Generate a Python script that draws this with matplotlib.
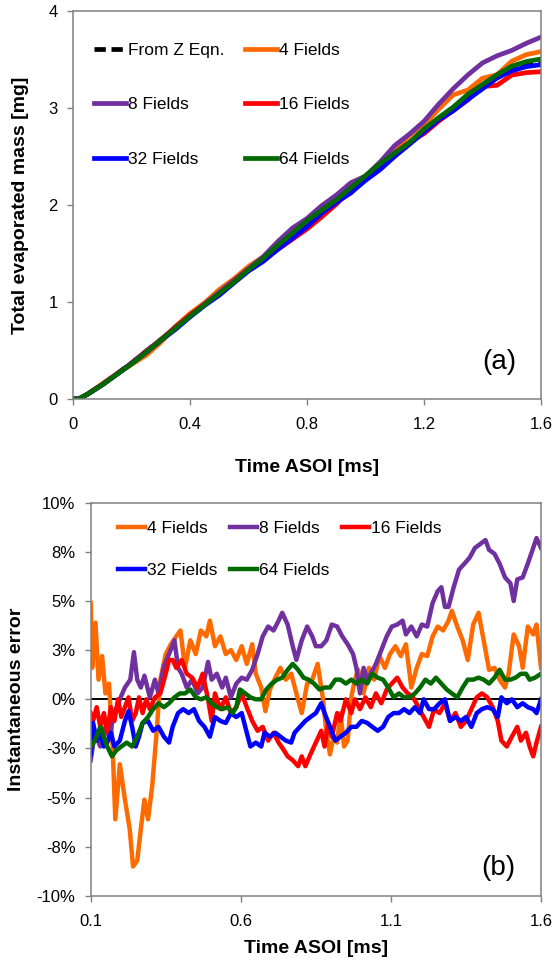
import matplotlib
matplotlib.use("Agg")
import matplotlib.pyplot as plt

plt.rcParams["font.family"] = ["Liberation Sans", "DejaVu Sans"]

# ---- (a) total evaporated mass [mg] vs time ASOI [ms] ----
t_top = [0.00, 0.02, 0.05, 0.10, 0.15, 0.20, 0.25, 0.30, 0.35, 0.40, 0.45,
         0.50, 0.55, 0.60, 0.65, 0.70, 0.75, 0.80, 0.85, 0.90, 0.95, 1.00,
         1.05, 1.10, 1.15, 1.20, 1.25, 1.30, 1.35, 1.40, 1.45, 1.50, 1.55,
         1.60]
mass_z = [0.00, 0.00, 0.05, 0.15, 0.26, 0.37, 0.49, 0.61, 0.73, 0.85, 0.97,
          1.09, 1.21, 1.33, 1.45, 1.57, 1.69, 1.81, 1.93, 2.04, 2.16, 2.28,
          2.40, 2.52, 2.64, 2.76, 2.88, 3.00, 3.11, 3.21, 3.31, 3.39, 3.44,
          3.46]
mass_4 = [0.00, 0.00, 0.05, 0.157, 0.26, 0.355, 0.45, 0.583, 0.747, 0.88,
          0.992, 1.128, 1.238, 1.366, 1.465, 1.576, 1.709, 1.834, 1.945,
          2.050, 2.121, 2.296, 2.434, 2.578, 2.714, 2.823, 2.987, 3.135,
          3.185, 3.306, 3.343, 3.482, 3.550, 3.581]
mass_8 = [0.00, 0.00, 0.05, 0.145, 0.256, 0.37, 0.495, 0.61, 0.742, 0.861,
          0.98, 1.10, 1.223, 1.343, 1.466, 1.622, 1.761, 1.861, 1.992,
          2.101, 2.229, 2.298, 2.443, 2.613, 2.730, 2.862, 3.038, 3.198,
          3.340, 3.464, 3.538, 3.593, 3.667, 3.730]
mass_16 = [0.00, 0.00, 0.05, 0.149, 0.257, 0.367, 0.487, 0.61, 0.739, 0.867,
           0.976, 1.078, 1.211, 1.334, 1.428, 1.540, 1.646, 1.752, 1.876,
           2.007, 2.160, 2.271, 2.393, 2.535, 2.645, 2.735, 2.863, 2.973,
           3.082, 3.220, 3.234, 3.339, 3.364, 3.374]
mass_32 = [0.00, 0.00, 0.05, 0.146, 0.254, 0.363, 0.478, 0.603, 0.716, 0.845,
           0.964, 1.069, 1.195, 1.319, 1.417, 1.542, 1.656, 1.776, 1.915,
           2.024, 2.125, 2.253, 2.364, 2.500, 2.624, 2.752, 2.877, 2.970,
           3.088, 3.197, 3.310, 3.383, 3.426, 3.446]
mass_64 = [0.00, 0.00, 0.05, 0.146, 0.254, 0.361, 0.481, 0.606, 0.728, 0.853,
           0.971, 1.088, 1.203, 1.334, 1.45, 1.584, 1.710, 1.839, 1.945,
           2.052, 2.177, 2.301, 2.426, 2.535, 2.643, 2.782, 2.900, 3.009,
           3.141, 3.242, 3.343, 3.431, 3.478, 3.505]

# ---- (b) instantaneous error [%] vs time ASOI [ms] ----
t_4 = [0.100, 0.105, 0.116, 0.126, 0.138, 0.149, 0.161, 0.173, 0.182, 0.197,
       0.214, 0.230, 0.241, 0.255, 0.267, 0.279, 0.291, 0.305, 0.320, 0.332,
       0.350, 0.367, 0.385, 0.399, 0.414, 0.432, 0.450, 0.467, 0.485, 0.497,
       0.514, 0.532, 0.550, 0.567, 0.585, 0.603, 0.620, 0.638, 0.650, 0.668,
       0.682, 0.697, 0.715, 0.732, 0.750, 0.768, 0.785, 0.803, 0.821, 0.838,
       0.856, 0.874, 0.885, 0.897, 0.909, 0.921, 0.932, 0.944, 0.956, 0.968,
       0.980, 0.991, 1.009, 1.027, 1.044, 1.062, 1.080, 1.097, 1.115, 1.133,
       1.150, 1.168, 1.186, 1.203, 1.221, 1.239, 1.256, 1.274, 1.292, 1.303,
       1.321, 1.339, 1.356, 1.374, 1.392, 1.409, 1.427, 1.445, 1.462, 1.480,
       1.492, 1.509, 1.527, 1.539, 1.556, 1.574, 1.585, 1.600]
err_4 = [4.9, 1.6, 3.9, 1.0, 2.2, 0.3, 0.8, -2.4, -6.1, -3.3,
         -5.1, -6.6, -8.5, -8.2, -6.6, -5.1, -6.1, -4.4, -1.6, 1.0,
         2.3, 2.8, 3.2, 3.5, 1.6, 3.0, 2.3, 3.5, 3.2, 4.0,
         2.7, 3.2, 2.3, 2.5, 2.0, 2.7, 1.8, 2.8, 1.3, 0.6,
         -0.6, 0.5, 1.1, 1.6, 1.0, 1.3, 0.3, -0.7, 0.8, 1.0,
         1.8, 0.0, -1.7, -2.8, -1.9, -2.2, -0.7, -2.4, -2.1, 0.1,
         1.0, 1.5, 0.3, 1.6, 1.0, 2.2, 1.6, 2.3, 2.7, 2.2,
         2.8, 0.6, 1.6, 2.3, 2.2, 3.2, 3.7, 3.5, 4.0, 4.5,
         3.7, 3.0, 2.0, 3.8, 4.4, 3.0, 1.5, 1.6, 1.0, 0.6,
         1.3, 3.3, 2.7, 1.6, 3.7, 3.3, 3.8, 1.6]

t_8 = [0.100, 0.114, 0.132, 0.149, 0.161, 0.179, 0.197, 0.214, 0.232, 0.244,
       0.255, 0.267, 0.279, 0.297, 0.314, 0.326, 0.344, 0.361, 0.379, 0.391,
       0.403, 0.420, 0.438, 0.456, 0.473, 0.491, 0.503, 0.520, 0.538, 0.550,
       0.567, 0.585, 0.603, 0.620, 0.638, 0.656, 0.673, 0.691, 0.709, 0.726,
       0.738, 0.756, 0.773, 0.785, 0.803, 0.821, 0.838, 0.850, 0.868, 0.885,
       0.903, 0.921, 0.938, 0.956, 0.974, 0.985, 0.997, 1.009, 1.021, 1.033,
       1.050, 1.068, 1.086, 1.103, 1.121, 1.139, 1.150, 1.168, 1.186, 1.203,
       1.221, 1.239, 1.256, 1.268, 1.280, 1.292, 1.309, 1.327, 1.345, 1.362,
       1.380, 1.398, 1.415, 1.427, 1.445, 1.462, 1.480, 1.498, 1.509, 1.521,
       1.539, 1.556, 1.574, 1.585, 1.600]
err_8 = [-3.1, -1.7, -2.4, -1.4, -1.9, -0.7, 0.0, 0.6, 1.0, 2.4,
         1.0, 0.6, 1.2, 0.1, 1.0, 0.3, 1.7, 2.3, 3.0, 1.6,
         1.3, 0.6, 1.0, 0.3, 0.6, 1.9, 1.0, 1.3, 0.6, 1.1,
         0.1, 0.8, 1.1, 1.0, 1.5, 2.3, 3.2, 3.7, 3.5, 4.0,
         4.4, 3.8, 2.7, 2.0, 3.0, 3.7, 3.2, 2.7, 2.7, 3.0,
         3.8, 3.7, 3.2, 2.8, 2.3, 1.6, 0.3, 1.6, 1.0, 1.3,
         1.8, 2.5, 3.2, 3.7, 3.8, 4.0, 3.3, 3.7, 3.2, 3.8,
         3.7, 4.9, 5.5, 5.7, 4.7, 4.7, 5.7, 6.6, 6.9, 7.2,
         7.7, 7.9, 8.1, 7.6, 7.4, 6.9, 6.2, 5.9, 5.0, 6.1,
         6.2, 6.9, 7.7, 8.2, 7.7]

t_16 = [0.100, 0.108, 0.120, 0.132, 0.144, 0.155, 0.167, 0.179, 0.191, 0.202,
        0.214, 0.226, 0.238, 0.250, 0.261, 0.273, 0.285, 0.297, 0.314, 0.332,
        0.350, 0.361, 0.373, 0.385, 0.403, 0.420, 0.438, 0.456, 0.473, 0.491,
        0.503, 0.514, 0.532, 0.550, 0.567, 0.585, 0.603, 0.620, 0.638, 0.656,
        0.673, 0.691, 0.709, 0.726, 0.744, 0.756, 0.773, 0.791, 0.803, 0.815,
        0.832, 0.850, 0.868, 0.879, 0.891, 0.903, 0.921, 0.932, 0.950, 0.968,
        0.980, 0.997, 1.015, 1.033, 1.050, 1.068, 1.086, 1.103, 1.121, 1.139,
        1.156, 1.174, 1.192, 1.209, 1.227, 1.244, 1.262, 1.280, 1.297, 1.315,
        1.333, 1.350, 1.368, 1.386, 1.403, 1.421, 1.439, 1.456, 1.468, 1.486,
        1.503, 1.521, 1.533, 1.550, 1.562, 1.574, 1.585, 1.600]
err_16 = [-0.7, -1.1, -0.4, -1.4, -0.7, -1.7, -0.4, -1.1, 0.0, -0.9,
          -0.4, 0.1, -1.1, -0.7, 0.1, -0.7, 0.0, -0.5, 0.1, 0.3,
          1.3, 2.0, 2.0, 1.6, 2.0, 1.3, 1.1, 0.6, 1.3, 0.0,
          -1.1, 0.3, -0.5, 0.1, -0.7, -0.4, 0.3, -0.4, -1.1, -1.6,
          -1.4, -2.1, -1.7, -2.2, -2.6, -2.9, -3.1, -3.4, -2.9, -3.4,
          -2.8, -2.2, -1.6, -2.4, -1.2, -1.9, -0.7, -1.1, 0.0, -0.7,
          0.0, -0.5, 0.1, -0.4, 0.3, -0.2, 0.5, 0.8, 1.1, 0.6,
          0.3, 0.1, -0.4, -0.9, -1.4, -0.5, -0.7, -0.2, -1.1, -0.7,
          -1.4, -1.1, -0.5, 0.1, 0.3, 0.1, -0.4, -1.1, -2.1, -2.4,
          -1.9, -1.4, -2.1, -1.7, -2.4, -2.9, -2.2, -1.4]

t_32 = [0.100, 0.108, 0.120, 0.132, 0.144, 0.155, 0.167, 0.179, 0.197, 0.214,
        0.226, 0.238, 0.250, 0.261, 0.273, 0.291, 0.308, 0.326, 0.344, 0.361,
        0.373, 0.391, 0.408, 0.426, 0.444, 0.461, 0.479, 0.497, 0.514, 0.532,
        0.550, 0.567, 0.585, 0.603, 0.620, 0.632, 0.650, 0.668, 0.679, 0.697,
        0.715, 0.732, 0.750, 0.768, 0.779, 0.797, 0.815, 0.832, 0.850, 0.868,
        0.879, 0.897, 0.915, 0.932, 0.950, 0.968, 0.985, 1.003, 1.021, 1.038,
        1.056, 1.074, 1.091, 1.109, 1.127, 1.144, 1.162, 1.180, 1.197, 1.209,
        1.227, 1.244, 1.262, 1.280, 1.297, 1.315, 1.333, 1.350, 1.368, 1.386,
        1.403, 1.421, 1.439, 1.456, 1.468, 1.486, 1.503, 1.521, 1.539, 1.556,
        1.574, 1.585, 1.600]
err_32 = [-2.8, -1.2, -2.1, -1.7, -2.4, -2.2, -1.7, -2.4, -2.1, -1.1,
          -0.6, -1.4, -2.4, -1.9, -1.2, -1.1, -1.6, -1.4, -1.9, -2.2,
          -1.4, -0.7, -0.5, -0.7, -0.5, -1.1, -1.4, -1.9, -0.9, -1.1,
          -1.2, -0.7, -0.9, -0.7, -1.7, -2.4, -2.2, -2.4, -1.7, -1.9,
          -1.7, -1.9, -2.1, -2.2, -1.7, -1.4, -1.1, -0.9, -0.7, -0.2,
          -0.7, -1.4, -2.1, -1.9, -1.7, -1.4, -1.4, -1.1, -1.2, -1.4,
          -1.6, -1.4, -0.9, -0.7, -0.7, -0.5, -0.7, -0.4, -0.7, 0.0,
          -0.5, -0.5, -0.2, 0.0, -1.1, -0.9, -1.1, -0.9, -1.4, -0.7,
          -0.5, -0.4, -0.5, -0.9, 0.1, -0.2, 0.0, -0.4, -0.2, -0.4,
          -0.5, -0.7, 0.0]

t_64 = [0.100, 0.114, 0.132, 0.144, 0.155, 0.171, 0.185, 0.202, 0.220, 0.238,
        0.255, 0.273, 0.291, 0.308, 0.326, 0.344, 0.361, 0.379, 0.397, 0.414,
        0.432, 0.450, 0.467, 0.485, 0.503, 0.520, 0.538, 0.556, 0.573, 0.585,
        0.597, 0.615, 0.632, 0.650, 0.668, 0.685, 0.703, 0.721, 0.738, 0.756,
        0.773, 0.791, 0.809, 0.826, 0.844, 0.862, 0.879, 0.897, 0.915, 0.932,
        0.950, 0.968, 0.985, 1.003, 1.021, 1.038, 1.056, 1.074, 1.091, 1.109,
        1.127, 1.144, 1.162, 1.180, 1.197, 1.215, 1.233, 1.250, 1.268, 1.286,
        1.303, 1.321, 1.339, 1.356, 1.374, 1.392, 1.409, 1.427, 1.445, 1.462,
        1.480, 1.498, 1.515, 1.533, 1.550, 1.562, 1.580, 1.600]
err_64 = [-2.4, -2.1, -1.4, -1.9, -2.4, -2.9, -2.6, -2.4, -2.2, -2.4,
          -1.9, -1.2, -0.9, -0.5, -0.2, -0.4, -0.2, 0.1, 0.3, 0.3,
          0.5, 0.1, 0.0, 0.1, -0.2, -0.4, -0.5, -0.4, -0.7, -0.4,
          0.5, 0.3, 0.1, 0.0, 0.0, 0.5, 0.8, 1.0, 1.1, 1.5,
          1.8, 1.5, 1.1, 1.0, 0.8, 0.5, 0.6, 0.6, 1.0, 1.0,
          0.8, 1.0, 0.8, 1.0, 0.8, 1.3, 1.1, 1.0, 0.6, 0.1,
          0.3, 0.1, 0.1, 0.3, 0.6, 1.0, 0.8, 1.1, 0.8, 0.5,
          0.3, 0.1, 0.6, 1.0, 1.0, 1.1, 1.0, 0.8, 1.1, 1.5,
          1.0, 1.0, 1.1, 1.3, 1.3, 1.0, 1.1, 1.3]

# axis ticks and labels
top_xticks = [0, 0.4, 0.8, 1.2, 1.6]
top_xlabels = ["0", "0.4", "0.8", "1.2", "1.6"]
top_yticks = [0, 1, 2, 3, 4]
bot_xticks = [0.1, 0.6, 1.1, 1.6]
bot_xlabels = ["0.1", "0.6", "1.1", "1.6"]
bot_yticks = [-10, -7.5, -5, -2.5, 0, 2.5, 5, 7.5, 10]
bot_ylabels = ["-10%", "-8%", "-5%", "-3%", "0%", "3%", "5%", "8%", "10%"]

c4, c8, c16, c32, c64 = "#ff6a00", "#7030a0", "#ff0000", "#0000ff", "#006a00"
gray = "#808080"

fig = plt.figure(figsize=(5.55, 9.6), dpi=100)
ax1 = fig.add_axes([0.1315, 0.5844, 0.8432, 0.4042])
ax2 = fig.add_axes([0.1634, 0.0667, 0.8114, 0.4097])

for ax in (ax1, ax2):
    for sp in ax.spines.values():
        sp.set_color(gray)
        sp.set_linewidth(1.1)
    ax.tick_params(direction="out", length=4, width=1, color=gray,
                   labelsize=12, pad=7)
    ax.tick_params(axis="x", pad=9)

# --- top panel ---
lz, = ax1.plot(t_top, mass_z, color="black", lw=3.4, dashes=(2.4, 1.2),
               label="From Z Eqn.")
l4, = ax1.plot(t_top, mass_4, color=c4, lw=3.4, label="4 Fields")
l8, = ax1.plot(t_top, mass_8, color=c8, lw=3.4, label="8 Fields")
l16, = ax1.plot(t_top, mass_16, color=c16, lw=3.4, label="16 Fields")
l32, = ax1.plot(t_top, mass_32, color=c32, lw=3.4, label="32 Fields")
l64, = ax1.plot(t_top, mass_64, color=c64, lw=3.4, label="64 Fields")
ax1.set_xlim(0, 1.6)
ax1.set_ylim(0, 4)
ax1.set_xticks(top_xticks)
ax1.set_xticklabels(top_xlabels)
ax1.set_yticks(top_yticks)
ax1.set_xlabel("Time ASOI [ms]", fontsize=14, fontweight="bold")
ax1.set_ylabel("Total evaporated mass [mg]", fontsize=14, fontweight="bold")
ax1.xaxis.set_label_coords(0.5, -0.155)
ax1.yaxis.set_label_coords(-0.095, 0.5)
ax1.legend(handles=[lz, l8, l32, l4, l16, l64], ncol=2, frameon=False,
           loc="upper left", bbox_to_anchor=(0.03, 0.935), borderaxespad=0,
           fontsize=12.5, handlelength=1.85, handletextpad=0.1,
           columnspacing=1.2, labelspacing=2.25)
ax1.text(0.91, 0.095, "(a)", transform=ax1.transAxes, fontsize=20,
         ha="center", va="center")

# --- bottom panel ---
ax2.axhline(0, color="black", lw=1.4, zorder=1)
b4, = ax2.plot(t_4, err_4, color=c4, lw=3.2, label="4 Fields")
b8, = ax2.plot(t_8, err_8, color=c8, lw=3.2, label="8 Fields")
b16, = ax2.plot(t_16, err_16, color=c16, lw=3.2, label="16 Fields")
b32, = ax2.plot(t_32, err_32, color=c32, lw=3.2, label="32 Fields")
b64, = ax2.plot(t_64, err_64, color=c64, lw=3.2, label="64 Fields")
ax2.set_xlim(0.1, 1.6)
ax2.set_ylim(-10, 10)
ax2.set_xticks(bot_xticks)
ax2.set_xticklabels(bot_xlabels)
ax2.set_yticks(bot_yticks)
ax2.set_yticklabels(bot_ylabels)
ax2.set_xlabel("Time ASOI [ms]", fontsize=14, fontweight="bold")
ax2.set_ylabel("Instantaneous error", fontsize=14, fontweight="bold")
ax2.xaxis.set_label_coords(0.5, -0.112)
ax2.yaxis.set_label_coords(-0.145, 0.5)
ax2.legend(handles=[b4, b32, b8, b64, b16], ncol=3, frameon=False,
           loc="upper left", bbox_to_anchor=(0.045, 0.972), borderaxespad=0,
           fontsize=12.5, handlelength=1.55, handletextpad=0.1,
           columnspacing=0.75, labelspacing=1.55)
ax2.text(0.905, 0.072, "(b)", transform=ax2.transAxes, fontsize=20,
         ha="center", va="center")

fig.savefig("out.png", dpi=100)
